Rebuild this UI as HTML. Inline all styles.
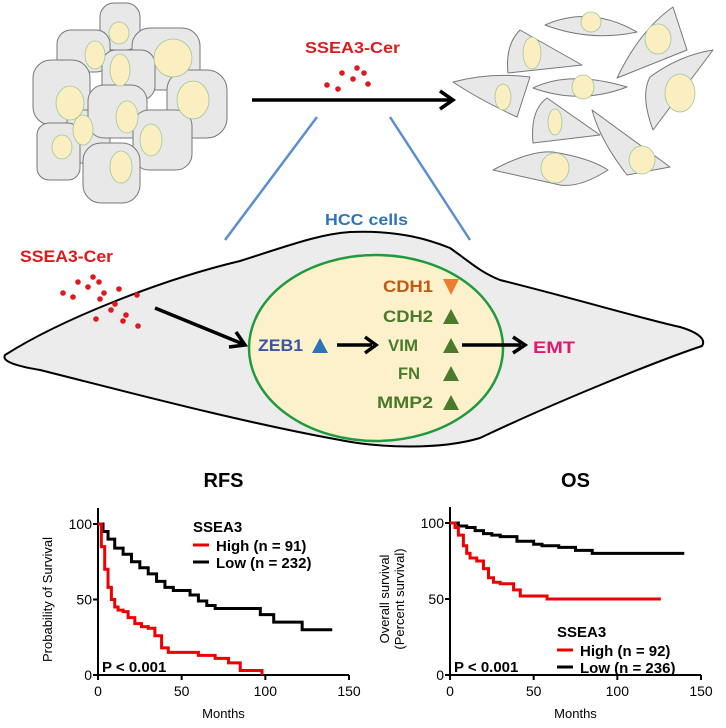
<!DOCTYPE html>
<html><head><meta charset="utf-8"><style>
body{margin:0;background:#fff;width:726px;height:723px;overflow:hidden;font-family:"Liberation Sans",Arial,sans-serif}
</style></head><body>
<svg width="726" height="723" viewBox="0 0 726 723" font-family="Liberation Sans, Arial, sans-serif">
<g stroke="#777" stroke-width="1" fill="#e8e8e8" stroke-linejoin="round">
<rect x="100" y="3" width="40" height="47" rx="14"/>
<rect x="57" y="30" width="53" height="42" rx="14"/>
<rect x="132" y="28" width="68" height="62" rx="18"/>
<rect x="102" y="50" width="53" height="50" rx="14"/>
<rect x="33" y="60" width="57" height="65" rx="18"/>
<rect x="167" y="70" width="60" height="68" rx="20"/>
<rect x="67" y="110" width="43" height="53" rx="12"/>
<rect x="88" y="85" width="59" height="53" rx="16"/>
<rect x="133" y="110" width="59" height="60" rx="16"/>
<rect x="37" y="123" width="43" height="57" rx="12"/>
<rect x="83" y="143" width="57" height="60" rx="18"/>
</g>
<g fill="#fbeec0" stroke="#9ec79e" stroke-width="0.8">
<ellipse cx="119" cy="33" rx="10" ry="11"/><ellipse cx="95" cy="55" rx="10" ry="14"/><ellipse cx="173" cy="58" rx="19" ry="19"/><ellipse cx="120" cy="70" rx="10" ry="16"/><ellipse cx="70" cy="103" rx="14" ry="17"/><ellipse cx="193" cy="100" rx="16" ry="19"/><ellipse cx="83" cy="130" rx="10" ry="15"/><ellipse cx="127" cy="117" rx="11" ry="16"/><ellipse cx="151" cy="140" rx="11" ry="16"/><ellipse cx="62" cy="147" rx="10" ry="12"/><ellipse cx="121" cy="167" rx="11" ry="16"/>
</g>
<g stroke="#777" stroke-width="1" fill="#e8e8e8" stroke-linejoin="round">
<path d="M545 25 Q590 5 637 32 Q590 42 545 25Z"/>
<path d="M520 30 L582 65 L508 73 Q505 45 520 30Z"/>
<path d="M673 7 L687 50 L617 78 Q640 30 673 7Z"/>
<path d="M453 82 Q490 72 530 77 L517 117 Q480 100 453 82Z"/>
<path d="M533 88 Q570 70 627 87 Q580 105 533 88Z"/>
<path d="M713 50 L653 130 Q640 95 650 77 Q680 55 713 50Z"/>
<path d="M547 98 L600 135 L533 143 Q530 110 547 98Z"/>
<path d="M592 110 L670 167 L627 175 Q600 140 592 110Z"/>
<path d="M493 170 Q530 150 553 152 Q590 158 608 170 Q580 188 560 185Z"/>
</g>
<g fill="#fbeec0" stroke="#9ec79e" stroke-width="0.8">
<ellipse cx="591" cy="22" rx="10" ry="10"/><ellipse cx="532" cy="53" rx="9" ry="16"/><ellipse cx="658" cy="39" rx="13" ry="15"/><ellipse cx="503" cy="97" rx="8" ry="13"/><ellipse cx="583" cy="87" rx="11" ry="12"/><ellipse cx="680" cy="93" rx="15" ry="19"/><ellipse cx="555" cy="122" rx="7" ry="13"/><ellipse cx="642" cy="160" rx="13" ry="14"/><ellipse cx="555" cy="168" rx="14" ry="15"/>
</g>
<text x="305" y="53" textLength="95" lengthAdjust="spacingAndGlyphs" fill="#e0191e" font-size="16" font-weight="bold">SSEA3-Cer</text>
<g fill="#e0191e"><circle cx="342" cy="73" r="2.8"/><circle cx="357" cy="68" r="2.8"/><circle cx="364" cy="73" r="2.8"/><circle cx="353" cy="79" r="2.8"/><circle cx="327" cy="85" r="2.8"/><circle cx="338" cy="89" r="2.8"/><circle cx="368" cy="84" r="2.8"/></g>
<line x1="252" y1="100" x2="450" y2="100" stroke="#000" stroke-width="3.5"/>
<path d="M440 91 L453 100 L440 109" fill="none" stroke="#000" stroke-width="3.5"/>
<line x1="225" y1="240" x2="317" y2="117" stroke="#5b8fcf" stroke-width="2.5"/>
<line x1="470" y1="240" x2="390" y2="117" stroke="#5b8fcf" stroke-width="2.5"/>
<text x="325" y="225" textLength="83" lengthAdjust="spacingAndGlyphs" fill="#2e75b6" font-size="16" font-weight="bold">HCC cells</text>
<path d="M5 355 C60 320 160 280 240 261 C290 245 320 234 350 232 C400 230 430 240 450 248 C470 262 480 272 500 280 C580 300 640 318 680 327 C700 333 706 340 702 346 C660 360 560 400 480 438 C440 450 380 448 340 440 C240 422 120 390 40 370 C10 365 2 360 5 355Z" fill="#ececec" stroke="#000" stroke-width="2"/>
<ellipse cx="376" cy="348" rx="127" ry="93" fill="#fdf1cc" stroke="#1f9a3e" stroke-width="2.5"/>
<text x="20" y="262" textLength="93" lengthAdjust="spacingAndGlyphs" fill="#e0191e" font-size="17" font-weight="bold">SSEA3-Cer</text>
<g fill="#e0191e"><circle cx="78" cy="282" r="2.8"/><circle cx="93" cy="277" r="2.8"/><circle cx="99" cy="282" r="2.8"/><circle cx="88" cy="287" r="2.8"/><circle cx="63" cy="293" r="2.8"/><circle cx="73" cy="297" r="2.8"/><circle cx="119" cy="289" r="2.8"/><circle cx="104" cy="293" r="2.8"/><circle cx="100" cy="299" r="2.8"/><circle cx="137" cy="295" r="2.8"/><circle cx="115" cy="304" r="2.8"/><circle cx="111" cy="310" r="2.8"/><circle cx="126" cy="315" r="2.8"/><circle cx="123" cy="321" r="2.8"/><circle cx="96" cy="319" r="2.8"/><circle cx="138" cy="326" r="2.8"/></g>
<line x1="155" y1="308" x2="243" y2="344" stroke="#000" stroke-width="3.5"/>
<path d="M236 332 L245 345 L229 347" fill="none" stroke="#000" stroke-width="3.5"/>
<g font-size="17" font-weight="bold" lengthAdjust="spacingAndGlyphs">
<text x="258" y="351" textLength="45" lengthAdjust="spacingAndGlyphs" fill="#3a55a4">ZEB1</text>
<text x="383" y="292" textLength="50" lengthAdjust="spacingAndGlyphs" fill="#c05a10">CDH1</text>
<text x="383" y="322" textLength="50" lengthAdjust="spacingAndGlyphs" fill="#4a7a2a">CDH2</text>
<text x="388" y="351" textLength="30" lengthAdjust="spacingAndGlyphs" fill="#4a7a2a">VIM</text>
<text x="398" y="379" textLength="22" lengthAdjust="spacingAndGlyphs" fill="#4a7a2a">FN</text>
<text x="377" y="408" textLength="56" lengthAdjust="spacingAndGlyphs" fill="#4a7a2a">MMP2</text>
<text x="533" y="353" textLength="42" lengthAdjust="spacingAndGlyphs" fill="#e0196e">EMT</text>
</g>
<path d="M312 353 L320 338 L328 353Z" fill="#2e74b5"/>
<path d="M443 279 L459 279 L451 295Z" fill="#ed7d31"/>
<g fill="#4a7a2a"><path d="M443 324 L451 309 L459 324Z"/><path d="M443 353 L451 338 L459 353Z"/><path d="M443 381 L451 366 L459 381Z"/><path d="M443 410 L451 395 L459 410Z"/></g>
<line x1="337" y1="345" x2="372" y2="345" stroke="#000" stroke-width="3.5"/><path d="M365 337 L376 345 L365 353" fill="none" stroke="#000" stroke-width="3.5"/>
<line x1="462" y1="345" x2="521" y2="345" stroke="#000" stroke-width="3.5"/><path d="M513 337 L525 345 L513 353" fill="none" stroke="#000" stroke-width="3.5"/>
<g id="rfs"></g><g id="os"></g>
</svg>
<script>
const ticksX=[0,50,100,150];
const ticksY=[0,50,100];
const rfsHighT=[0,2,4,6,8,10,12,15,18,22,26,30,34,38,42,50,60,70,78,85,98];
const rfsHighV=[100,85,70,58,50,45,43,42,38,34,32,31,26,18,15,15,13,11,8,3,0];
const rfsLowT=[0,3,6,10,15,20,25,30,35,40,45,50,55,60,65,70,80,92,97,105,115,122,140];
const rfsLowV=[100,95,90,84,80,75,71,67,62,58,56,56,53,49,46,44,44,44,40,35,35,30,30];
const osHighT=[0,3,5,8,10,12,16,18,20,23,26,30,35,38,42,50,58,126];
const osHighV=[100,97,92,85,80,77,75,75,70,64,61,60,60,56,52,52,50,50];
const osLowT=[0,5,10,15,20,25,30,40,50,55,65,75,85,140];
const osLowV=[100,98,97,95,93,92,91,88,86,85,84,82,80,80];
const NS="http://www.w3.org/2000/svg";
function mk(p,tag,at){const e=document.createElementNS(NS,tag);for(const k in at)e.setAttribute(k,at[k]);p.appendChild(e);return e;}
function chart(g,o){
  const X=v=>o.x0+(o.x1-o.x0)*v/150, Y=v=>o.y0+(o.y1-o.y0)*v/100;
  const t=mk(g,'text',{x:(o.x0+o.x1)/2,y:o.titleY,'text-anchor':'middle','font-size':20,'font-weight':'bold'});t.textContent=o.title;
  
  
  mk(g,'path',{d:`M${o.x0} ${o.y1-16} V${o.y0} H${X(150)}`,fill:'none',stroke:'#000','stroke-width':2});
  ticksX.forEach(v=>{mk(g,'line',{x1:X(v),x2:X(v),y1:o.y0,y2:o.y0+5,stroke:'#000','stroke-width':2});
    const l=mk(g,'text',{x:X(v),y:o.y0+21,'text-anchor':'middle','font-size':14});l.textContent=v;
    
    });
  ticksY.forEach(v=>{mk(g,'line',{x1:o.x0-5,x2:o.x0,y1:Y(v),y2:Y(v),stroke:'#000','stroke-width':2});
    const l=mk(g,'text',{x:o.x0-6,y:Y(v)+5,'text-anchor':'end','font-size':14});l.textContent=v;
    
    });
  const xl=mk(g,'text',{x:X(75),y:o.y0+43,'text-anchor':'middle','font-size':13});xl.textContent='Months';
  
  
  o.ylab.forEach((s,i)=>{const yl=mk(g,'text',{transform:`translate(${o.ylx+i*15},${(o.y0+o.y1)/2}) rotate(-90)`,'text-anchor':'middle','font-size':13});yl.textContent=s;
    
    });
  o.series.forEach(s=>{let d=`M${X(s.t[0])} ${Y(s.v[0])}`;
    for(let i=1;i<s.t.length;i++){d+=` H${X(s.t[i])} V${Y(s.v[i])}`;}
    const p=mk(g,'path',{d,fill:'none',stroke:s.c,'stroke-width':3});
    
    });
  const lg=mk(g,'g',{});
  
  
  const lt=mk(lg,'text',{x:o.lx,y:o.ly,'font-size':15,'font-weight':'bold'});lt.textContent='SSEA3';
  o.legend.forEach((e,i)=>{mk(lg,'line',{x1:o.lx,x2:o.lx+16,y1:o.ly+13+i*17,y2:o.ly+13+i*17,stroke:e[1],'stroke-width':3});
    const tx=mk(lg,'text',{x:o.lx+23,y:o.ly+19+i*17,'font-size':15,'font-weight':'bold'});tx.textContent=e[0];
    
    });
  const pv=mk(g,'text',{x:o.x0+4,y:o.y0-3,'font-size':15,'font-weight':'bold'});pv.textContent='P < 0.001';
  
  
}
const rfs=document.getElementById('rfs');


chart(rfs,{x0:98,x1:349,y0:675,y1:524,title:'RFS',titleY:487,ylab:['Probability of Survival'],ylx:52,lx:193,ly:532,
 legend:[['High (n = 91)','#e00'],['Low (n = 232)','#000']],
 series:[{t:rfsLowT,v:rfsLowV,c:'#000',name:'rfs-low-line'},{t:rfsHighT,v:rfsHighV,c:'#e00',name:'rfs-high-line'}]});
const os=document.getElementById('os');


chart(os,{x0:450,x1:701,y0:675,y1:523,title:'OS',titleY:487,ylab:['Overall survival','(Percent survival)'],ylx:389,lx:557,ly:637,
 legend:[['High (n = 92)','#e00'],['Low (n = 236)','#000']],
 series:[{t:osLowT,v:osLowV,c:'#000',name:'os-low-line'},{t:osHighT,v:osHighV,c:'#e00',name:'os-high-line'}]});
</script>
</body></html>
